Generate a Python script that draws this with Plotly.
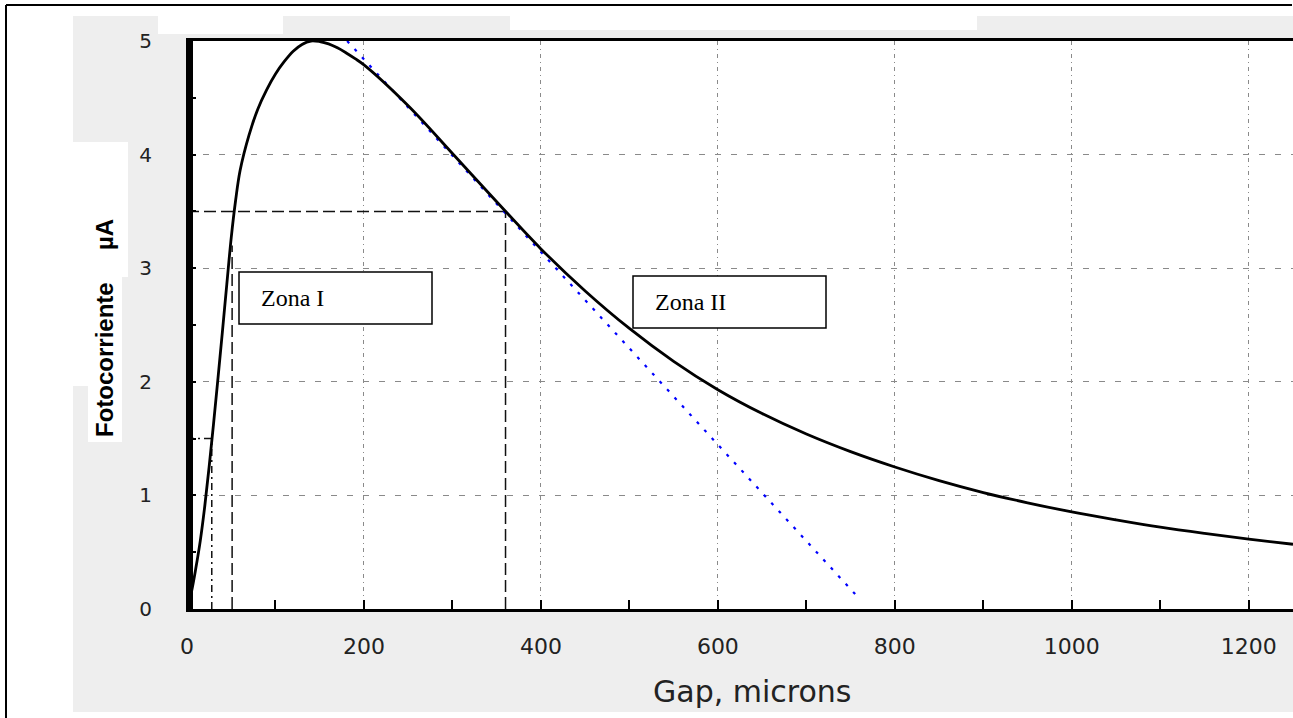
import plotly.graph_objects as go

# ---------------- data ----------------
gap_um = [0, 5, 10, 15, 20, 25, 30, 35, 40, 45, 50, 55, 60, 70, 80, 90, 100,
          110, 120, 130, 140, 150, 160, 170, 180, 190, 200, 250, 300, 350, 400,
          450, 500, 550, 600, 650, 700, 750, 800, 850, 900, 950, 1000, 1050,
          1100, 1150, 1200, 1250]
photocurrent_uA = [0, 0.15, 0.36, 0.60, 0.90, 1.25, 1.63, 2.03, 2.44, 2.86, 3.27,
                   3.60, 3.86, 4.17, 4.40, 4.57, 4.71, 4.82, 4.91, 4.97, 5.00,
                   4.995, 4.975, 4.94, 4.895, 4.845, 4.79, 4.43, 4.01, 3.585, 3.17,
                   2.80, 2.47, 2.18, 1.93, 1.72, 1.54, 1.385, 1.25, 1.13, 1.025,
                   0.935, 0.855, 0.785, 0.72, 0.665, 0.615, 0.57]

tangent_x = [181, 760]
tangent_y = [5.0, 0.09]

ref_level_uA = 3.5
ref_gap_zone1 = 51
ref_gap_zone2 = 360
low_level_uA = 1.5
low_gap = 28

x_major_ticks = [0, 200, 400, 600, 800, 1000, 1200]
y_major_ticks = [0, 1, 2, 3, 4, 5]

# ---------------- layout helpers ----------------
W, H = 1293, 718
ML, MR, MT, MB = 187, 0, 41, 109
PW, PH = W - ML - MR, H - MT - MB


def px(xp):
    return (xp - ML) / PW


def py(yp):
    return (H - MB - yp) / PH


fig = go.Figure()

DASH_REF = "12px,5px"

# reference dashed lines
fig.add_trace(go.Scatter(x=[0, ref_gap_zone2], y=[ref_level_uA, ref_level_uA],
                         mode="lines", line=dict(color="#111", width=1.5, dash=DASH_REF),
                         hoverinfo="skip", showlegend=False))
fig.add_trace(go.Scatter(x=[ref_gap_zone2, ref_gap_zone2], y=[0, ref_level_uA],
                         mode="lines", line=dict(color="#111", width=1.5, dash=DASH_REF),
                         hoverinfo="skip", showlegend=False))
fig.add_trace(go.Scatter(x=[ref_gap_zone1, ref_gap_zone1], y=[0, 3.2],
                         mode="lines", line=dict(color="#111", width=1.5, dash=DASH_REF),
                         hoverinfo="skip", showlegend=False))
fig.add_trace(go.Scatter(x=[low_gap, low_gap], y=[0, low_level_uA],
                         mode="lines", line=dict(color="#111", width=1.5, dash="7px,4px,2px,4px"),
                         hoverinfo="skip", showlegend=False))
fig.add_trace(go.Scatter(x=[0, low_gap], y=[low_level_uA, low_level_uA],
                         mode="lines", line=dict(color="#111", width=1.5, dash="7px,4px,2px,4px"),
                         hoverinfo="skip", showlegend=False))

# blue dotted tangent
fig.add_trace(go.Scatter(x=tangent_x, y=tangent_y, mode="lines",
                         line=dict(color="#0000ff", width=2.2, dash="3px,8px"),
                         hoverinfo="skip", showlegend=False))

# main curve
fig.add_trace(go.Scatter(x=gap_um, y=photocurrent_uA, mode="lines",
                         line=dict(color="black", width=2.8, shape="spline", smoothing=1.0),
                         showlegend=False))

shapes = []
# gray figure background
shapes.append(dict(type="rect", xref="paper", yref="paper", layer="below",
                   x0=px(73), x1=px(1293), y0=py(712), y1=py(16),
                   fillcolor="#eeeeee", line=dict(width=0)))
# white scan patches + white plot area
for (a, b, c, d) in [(158, 283, 16, 34), (510, 977, 16, 30), (73, 128, 142, 277),
                     (73, 88, 277, 386), (88, 122, 277, 442), (187, 1293, 41, 609)]:
    shapes.append(dict(type="rect", xref="paper", yref="paper", layer="below",
                       x0=px(a), x1=px(b), y0=py(d), y1=py(c),
                       fillcolor="white", line=dict(width=0)))
# outer frame
shapes.append(dict(type="line", xref="paper", yref="paper", layer="above",
                   x0=px(6), x1=px(6), y0=py(5), y1=py(730),
                   line=dict(color="black", width=2)))
shapes.append(dict(type="line", xref="paper", yref="paper", layer="above",
                   x0=px(6), x1=px(1292), y0=py(5), y1=py(5),
                   line=dict(color="black", width=2)))
# thick y axis bar
shapes.append(dict(type="rect", xref="x", yref="y", xsizemode="pixel", xanchor=0,
                   x0=0, x1=6, y0=0, y1=5, fillcolor="black", line=dict(width=0),
                   layer="above"))
# zone boxes
for (a, b, c, d) in [(239, 432, 272, 324), (633, 826, 276, 328)]:
    shapes.append(dict(type="rect", xref="paper", yref="paper", layer="above",
                       x0=px(a), x1=px(b), y0=py(d), y1=py(c),
                       fillcolor="white", line=dict(color="black", width=1.5)))

annotations = [
    dict(text="Zona I", xref="paper", yref="paper", x=px(259), y=py(298),
         xanchor="left", yanchor="middle", showarrow=False,
         font=dict(family="Liberation Serif", size=24, color="black")),
    dict(text="Zona II", xref="paper", yref="paper", x=px(653), y=py(302),
         xanchor="left", yanchor="middle", showarrow=False,
         font=dict(family="Liberation Serif", size=24, color="black")),
    dict(text="Gap, microns", xref="paper", yref="paper", x=px(752), y=py(691),
         xanchor="center", yanchor="middle", showarrow=False,
         font=dict(family="DejaVu Sans", size=30, color="#222")),
    dict(text="<b>Fotocorriente</b>", xref="paper", yref="paper", x=px(104), y=py(360),
         xanchor="center", yanchor="middle", showarrow=False, textangle=-90,
         font=dict(family="Liberation Sans", size=24, color="black")),
    dict(text="<b>µA</b>", xref="paper", yref="paper", x=px(104), y=py(235),
         xanchor="center", yanchor="middle", showarrow=False, textangle=-90,
         font=dict(family="Liberation Sans", size=24, color="black")),
]

fig.update_layout(
    width=W, height=H,
    margin=dict(l=ML, r=MR, t=MT, b=MB, pad=0),
    paper_bgcolor="white", plot_bgcolor="white",
    shapes=shapes, annotations=annotations,
    showlegend=False,
    xaxis=dict(range=[0, 1250], tickvals=x_major_ticks,
               ticks="inside", ticklen=9, tickwidth=1.5, tickcolor="black",
               showline=True, linewidth=3, linecolor="black", mirror=True,
               showgrid=True, gridcolor="#8a8a8a", gridwidth=1, griddash="4px,4px,1px,4px",
               zeroline=False,
               minor=dict(dtick=100, tick0=0, ticks="inside", ticklen=9, tickwidth=1.5,
                          tickcolor="black", showgrid=False),
               tickfont=dict(family="DejaVu Sans", size=22, color="#222"),
               ticklabelstandoff=16),
    yaxis=dict(range=[0, 5], tickvals=y_major_ticks,
               ticks="inside", ticklen=9, tickwidth=1.5, tickcolor="black",
               showline=True, linewidth=1, linecolor="black",
               showgrid=True, gridcolor="#8a8a8a", gridwidth=1, griddash="6px,10px",
               zeroline=False,
               minor=dict(dtick=0.5, tick0=0, ticks="inside", ticklen=9, tickwidth=1.5,
                          tickcolor="black", showgrid=False),
               tickfont=dict(family="DejaVu Sans", size=20, color="#222"),
               ticklabelstandoff=30),
)

fig.write_html(
    "out.html",
    config={"displayModeBar": False},
    post_script="document.body.style.margin='0';document.body.style.overflow='hidden';",
)
